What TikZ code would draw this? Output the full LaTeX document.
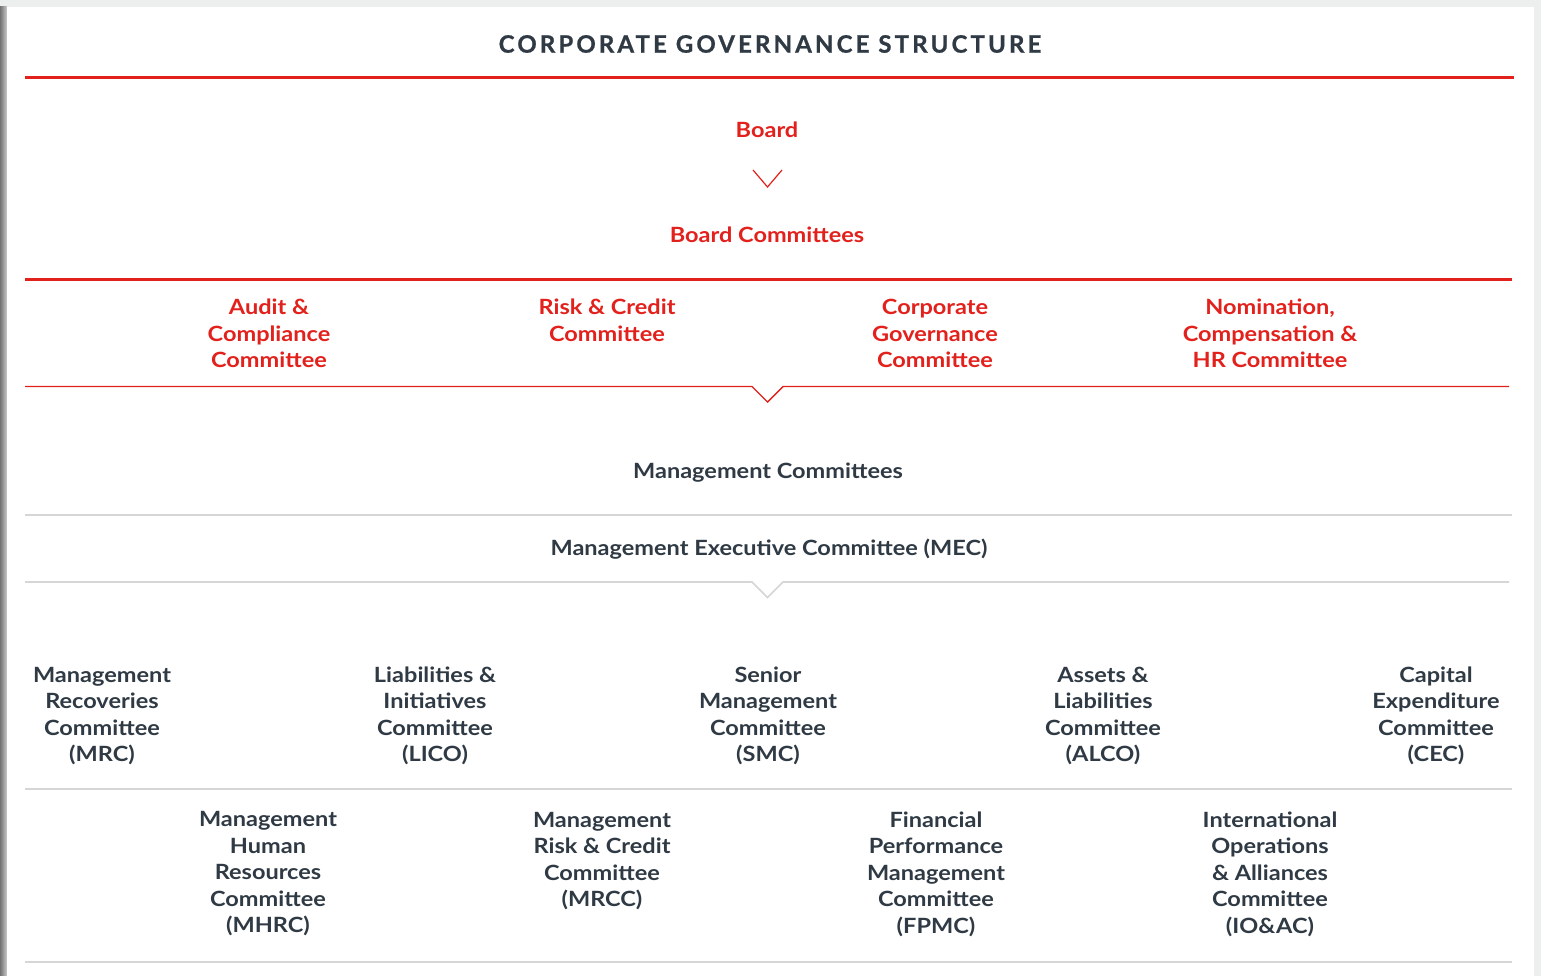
\documentclass[tikz,border=0pt]{standalone}
\usepackage{fontspec}
\setmainfont{Lato}
\newfontfamily\widefont[FakeStretch=1.12]{Lato}
\newfontfamily\titlefont[BoldFeatures={FakeBold=0.8}]{Lato}
\definecolor{cred}{HTML}{E3211C}
\definecolor{cdark}{HTML}{2F3A44}
\definecolor{cgrayline}{HTML}{D6D6D6}
\definecolor{cbg}{HTML}{EDEEEE}
\tikzset{
  redtxt/.style={text=cred, font=\widefont\fontsize{21}{26.5}\selectfont\bfseries, align=center, inner sep=0pt},
  darktxt/.style={text=cdark, font=\widefont\fontsize{21}{26.5}\selectfont\bfseries, align=center, inner sep=0pt},
  redline/.style={draw=cred, line width=1.4pt},
  grayline/.style={draw=cgrayline, line width=1.6pt},
}
\begin{document}
\begin{tikzpicture}[x=1pt,y=-1pt]
\useasboundingbox (0,0) rectangle (1541,976);
\fill[cbg] (0,0) rectangle (1541,976);
\shade[left color=black!55, right color=black!20] (0,7) rectangle (7,976);
\fill[white] (7,7) rectangle (1534,976);
% title
\node[text=cdark, font=\titlefont\fontsize{24}{28}\selectfont\bfseries, inner sep=0pt] (title) at (770,44) {\addfontfeature{LetterSpace=13}CORPORATE GOVERNANCE STRUCTURE};
\fill[cred] (25,76.5) rectangle (1514,78.7);
% board
\node[redtxt] (board) at (767,130) {Board};
\draw[draw=cred, line width=1.2pt] (753,170) -- (767.5,187) -- (782,170);
\node[redtxt] (bc) at (767,235) {Board Committees};
\fill[cred] (25,278) rectangle (1512,281);
\node[redtxt] (audit) at (269,333.5) {Audit \&\\Compliance\\Committee};
\node[redtxt] (risk) at (607,320.5) {Risk \& Credit\\Committee};
\node[redtxt] (cg) at (935,333.5) {Corporate\\Governance\\Committee};
\node[redtxt] (nom) at (1270,333.5) {Nomination,\\Compensation \&\\HR Committee};
\draw[redline, line join=miter] (25,386.5) -- (752,386.5) -- (767.5,402) -- (783,386.5) -- (1509,386.5);
% management
\node[darktxt] (mc) at (768,472.5) {Management Committees};
\draw[grayline] (25,515) -- (1512,515);
\node[darktxt] (mec) at (769,549) {Management Executive Committee (MEC)};
\draw[grayline, line join=miter] (25,582) -- (752,582) -- (767.5,597.5) -- (783,582) -- (1509,582);
% row 1
\node[darktxt] (mrc) at (102,716) {Management\\Recoveries\\Committee\\(MRC)};
\node[darktxt] (lico) at (435,716) {Liabilities \&\\Initiatives\\Committee\\(LICO)};
\node[darktxt] (smc) at (768,716) {Senior\\Management\\Committee\\(SMC)};
\node[darktxt] (alco) at (1103,716) {Assets \&\\Liabilities\\Committee\\(ALCO)};
\node[darktxt] (cec) at (1436,716) {Capital\\Expenditure\\Committee\\(CEC)};
\draw[grayline] (25,789) -- (1512,789);
% row 2
\node[darktxt] (mhrc) at (268,874) {Management\\Human\\Resources\\Committee\\(MHRC)};
\node[darktxt] (mrcc) at (602,861) {Management\\Risk \& Credit\\Committee\\(MRCC)};
\node[darktxt] (fpmc) at (936,874) {Financial\\Performance\\Management\\Committee\\(FPMC)};
\node[darktxt] (ioac) at (1270,874) {International\\Operations\\\& Alliances\\Committee\\(IO\&AC)};
\draw[grayline] (25,962) -- (1512,962);
\end{tikzpicture}
\end{document}
